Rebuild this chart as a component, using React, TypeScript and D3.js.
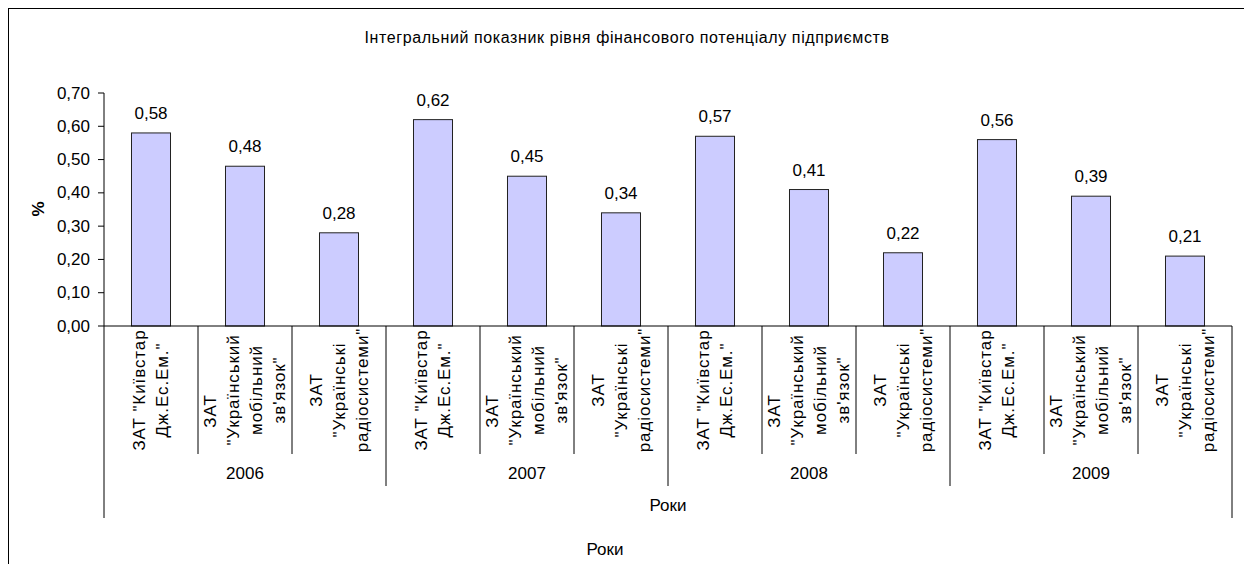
import React from "react";
import * as d3 from "d3";

const title = "Інтегральний показник рівня фінансового потенціалу підприємств";
const years = ["2006", "2007", "2008", "2009"];
const companyLabels: string[][] = [
  ['ЗАТ "Київстар', 'Дж.Ес.Ем."'],
  ["ЗАТ", '"Український', "мобільний", "зв'язок\""],
  ["ЗАТ", '"Українські', 'радіосистеми"'],
];
const values2006 = [0.58, 0.48, 0.28];
const values2007 = [0.62, 0.45, 0.34];
const values2008 = [0.57, 0.41, 0.22];
const values2009 = [0.56, 0.39, 0.21];
const yTicks = [0, 0.1, 0.2, 0.3, 0.4, 0.5, 0.6, 0.7];
const yLabel = "%";
const xTitle = "Роки";

const FONT = "'Liberation Sans', Arial, sans-serif";

export default function App() {
  const W = 1244;
  const H = 564;
  const left = 104;
  const right = 1232;
  const top = 93;
  const bottom = 326;

  const seriesByYear = [values2006, values2007, values2008, values2009];
  const rows = years.flatMap((yr, gi) =>
    companyLabels.map((lab, ci) => ({
      key: `${yr}-${ci}`,
      year: yr,
      gi,
      ci,
      lines: lab,
      value: seriesByYear[gi][ci],
    }))
  );

  const p = 0.585;
  const x = d3
    .scaleBand<string>()
    .domain(rows.map((r) => r.key))
    .range([left, right])
    .paddingInner(p)
    .paddingOuter(p / 2);
  const step = x.step();
  const y = d3.scaleLinear().domain([0, 0.7]).range([bottom, top]);
  const fmt = (v: number) => d3.format(".2f")(v).replace(".", ",");

  const catStart = (i: number) => left + i * step;
  const groupW = step * companyLabels.length;

  return (
    <svg
      width={W}
      height={H}
      style={{ position: "absolute", left: 0, top: 0, background: "#fff" }}
      fontFamily={FONT}
    >
      <rect x={8.5} y={8.5} width={1240} height={600} fill="#fff" stroke="#000" strokeWidth={1} />
      <text
        x={627}
        y={37}
        textAnchor="middle"
        dominantBaseline="central"
        fontSize={16}
        letterSpacing={0.6}
        fill="#000"
      >
        {title}
      </text>

      {/* y axis */}
      <line x1={left} x2={left} y1={top} y2={518} stroke="#000" />
      {yTicks.map((t) => (
        <g key={t}>
          <line x1={left - 6} x2={left} y1={y(t)} y2={y(t)} stroke="#000" />
          <text
            x={left - 14}
            y={y(t)}
            textAnchor="end"
            dominantBaseline="central"
            fontSize={17}
            fill="#000"
          >
            {fmt(t)}
          </text>
        </g>
      ))}
      <text
        transform={`translate(44,209) rotate(-90)`}
        textAnchor="middle"
        fontSize={17}
        fontWeight="bold"
        fill="#000"
      >
        {yLabel}
      </text>

      {/* bars */}
      {rows.map((r) => (
        <g key={r.key}>
          <rect
            x={x(r.key)}
            y={y(r.value)}
            width={x.bandwidth()}
            height={y(0) - y(r.value)}
            fill="#CCCCFF"
            stroke="#222"
            strokeWidth={1}
          />
          <text
            x={(x(r.key) as number) + x.bandwidth() / 2}
            y={y(r.value) - 14}
            textAnchor="middle"
            fontSize={17}
            fill="#000"
          >
            {fmt(r.value)}
          </text>
        </g>
      ))}

      {/* x axis */}
      <line x1={left} x2={right} y1={bottom} y2={bottom} stroke="#000" />
      {rows.map((r, i) =>
        i === 0 ? null : (
          <line
            key={"sep" + i}
            x1={catStart(i)}
            x2={catStart(i)}
            y1={bottom}
            y2={i % companyLabels.length === 0 ? 486 : 454}
            stroke="#000"
          />
        )
      )}
      <line x1={right} x2={right} y1={bottom} y2={518} stroke="#000" />

      {rows.map((r, i) => {
        const cx = catStart(i) + step / 2;
        const n = r.lines.length;
        return (
          <g key={"lab" + r.key}>
            {r.lines.map((ln, j) => {
              const shift = n === 4 && j === 0 ? 21 : 0;
              return (
                <text
                  key={j}
                  transform={`translate(${cx + (j - (n - 1) / 2) * 23},${390 + shift}) rotate(-90)`}
                  textAnchor="middle"
                  dominantBaseline="central"
                  fontSize={17}
                  letterSpacing={0.9}
                  fill="#000"
                >
                  {ln}
                </text>
              );
            })}
          </g>
        );
      })}

      {years.map((yr, gi) => (
        <text
          key={yr}
          x={left + gi * groupW + groupW / 2}
          y={473}
          textAnchor="middle"
          dominantBaseline="central"
          fontSize={17}
          fill="#000"
        >
          {yr}
        </text>
      ))}

      <text x={(left + right) / 2} y={505} textAnchor="middle" dominantBaseline="central" fontSize={17} fill="#000">
        {xTitle}
      </text>
      <text x={605} y={549} textAnchor="middle" dominantBaseline="central" fontSize={17} fill="#000">
        {xTitle}
      </text>
    </svg>
  );
}
